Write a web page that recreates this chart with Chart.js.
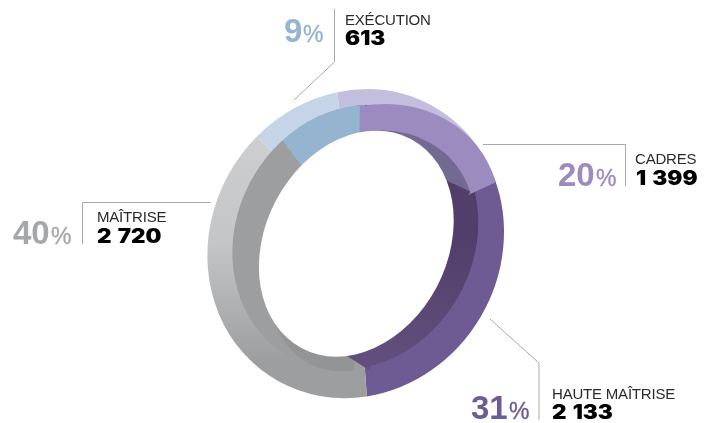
<!DOCTYPE html>
<html lang="fr"><head><meta charset="utf-8">
<style>
html,body{margin:0;padding:0;background:#fff}
#wrap{position:relative;width:712px;height:423px;overflow:hidden}
canvas{position:absolute;left:0;top:0}
.t{position:absolute;white-space:pre;line-height:1}
.lab{font-family:"Liberation Sans";font-size:15px;letter-spacing:-.2px;color:#2a2a2a}
.num{font-family:Inter;font-weight:900;font-size:19.5px;color:#000;transform:scaleX(1.15);transform-origin:0 50%;word-spacing:1.5px}
.pct{font-family:"Liberation Sans";font-weight:700;font-size:33px}
.sgn{font-family:"Liberation Sans";font-size:23px;-webkit-text-stroke:.35px currentColor}
</style></head><body>
<div id="wrap"><canvas id="c" width="712" height="423"></canvas></div>
<script src="https://cdn.jsdelivr.net/npm/chart.js@4/dist/chart.umd.min.js"></script>
<script>
const categories=["CADRES","HAUTE MAÎTRISE","MAÎTRISE","EXÉCUTION"];
const values=[1399,2133,2720,613];
const percents=[20,31,40,9];
const pctColors=["#9c8bbf","#6f5b93","#a6a7a9","#94b4d0"];
const labelPos=[[635,164],[552,399],[97,222],[345,25]];
const numPos=[[636,186],[552,420],[97,244],[345,46]];
const pctPos=[[558,186],[471,419],[13,244],[284,42]];
const leaders=[
 [[483,144.5],[625.5,144.5],[625.5,186]],
 [[490,319],[539,363],[539,420]],
 [[211,202.5],[82.5,202.5],[82.5,244]],
 [[294,100],[334.5,62],[334.5,9]]
];
const total=values.reduce((a,b)=>a+b,0);

const ctx0=document.getElementById('c').getContext('2d');
const gGrey=ctx0.createLinearGradient(0,0,0,423);
gGrey.addColorStop(0,'#d2d3d5');gGrey.addColorStop(.5,'#c4c5c7');gGrey.addColorStop(.88,'#9d9ea0');
const gDark=ctx0.createLinearGradient(0,210,0,423);
gDark.addColorStop(0,'#513e6a');gDark.addColorStop(1,'#63507e');
const T='rgba(0,0,0,0)';

// Layers of the ring, painted first to last. cx,cy: centre; sx,sy: half extents; k: tilt;
// tau,warp,peak: how the slices turn under the perspective of the 3D view (zoomed reference units).
const layers=[
 {colors:['#c4bede','#6f5b93',gGrey,'#c5d4e6'],cx:467,cy:491,sx:443.7,sy:463.5,k:33.6,tau:-12.5,warp:4,peak:75},
 {colors:[gDark,gDark,'#9d9ea0','#94b4d0'],cx:466,cy:472.5,sx:366.6,sy:397.5,k:42,tau:-11.5,warp:7.5,peak:50},
 {colors:[T,T,T,'#94b4d0'],cx:466,cy:472.5,sx:366.6,sy:397.5,k:42,tau:-2,warp:0,peak:0},
 {colors:['#9c8bbf',T,T,T],cx:475,cy:497,sx:422,sy:425,k:79,tau:-10,warp:0,peak:0},
 {colors:['#736a93',T,T,T],cx:475,cy:497,sx:342.5,sy:345,k:69.4,tau:-10,warp:0,peak:0},
 {colors:[T,T,'#939496',T],cx:497,cy:534,sx:283,sy:340,k:70,tau:-12,warp:0,peak:0},
 {colors:[T,'#614e7d',T,T],cx:305,cy:740,sx:238.5,sy:238.5,k:0,tau:-62.3,warp:0,peak:0},
 {colors:[T,'#513e6a',T,T],cx:560,cy:218,sx:276,sy:276,k:0,tau:41.6,warp:0,peak:0},
 {colors:['#ffffff'],single:true,cx:469,cy:491,sx:286,sy:339,k:60,tau:0,warp:0,peak:0}
];
const ox=200,oy=80,sc=1/3;
const rad=d=>d*Math.PI/180;

const ringPlugin={
 id:'ring',
 afterDatasetsUpdate(chart){
  chart.getSortedVisibleDatasetMetas().forEach(meta=>{
   const L=layers[meta.index];
   meta.data.forEach(el=>{
    const map=a=>{const th=a/Math.PI*180+90;return rad(th+L.tau+L.warp*Math.cos(rad(th-L.peak))-90);};
    const s=L.single?el.startAngle:map(el.startAngle),e=L.single?el.endAngle:map(el.endAngle);
    el.startAngle=s;el.endAngle=e;el.circumference=e-s;
    el.innerRadius=0;el.outerRadius=211;
   });
  });
 },
 beforeDatasetDraw(chart,args){
  const L=layers[args.index],c=chart.ctx,R=211,Cx=chart.width/2,Cy=chart.height/2;
  c.save();
  const Ux=L.k*sc,Uy=-L.sy*sc,Vx=L.sx*sc,Vy=0;
  c.transform(Vx/R,Vy/R,-Ux/R,-Uy/R,ox+L.cx*sc,oy+L.cy*sc);
  c.translate(-Cx,-Cy);
 },
 afterDatasetDraw(chart){chart.ctx.restore();},
 afterDraw(chart){
  const c=chart.ctx;c.save();c.strokeStyle='#a9a9a9';c.lineWidth=1;
  leaders.forEach(l=>{c.beginPath();l.forEach((p,i)=>i?c.lineTo(p[0],p[1]):c.moveTo(p[0],p[1]));c.stroke();});
  c.restore();
 }
};

new Chart(ctx0,{
 type:'doughnut',
 data:{labels:categories,datasets:layers.map((L,i)=>({
   data:L.single?[total]:values,backgroundColor:L.colors,borderWidth:0,clip:false,order:layers.length-i
 }))},
 options:{responsive:false,animation:false,cutout:0,events:[],layout:{padding:0},
  plugins:{legend:{display:false},tooltip:{enabled:false}}},
 plugins:[ringPlugin]
});

const wrap=document.getElementById('wrap');
function put(txt,cls,x,base,asc,size,color){
 const d=document.createElement('div');d.className='t '+cls;d.textContent=txt;
 d.style.left=x+'px';d.style.top=(base-asc*size)+'px';if(color)d.style.color=color;wrap.appendChild(d);return d;
}
const fmt=v=>String(v).replace(/\B(?=(\d{3})+$)/g,' ');
categories.forEach((n,i)=>{
 put(n,'lab',labelPos[i][0],labelPos[i][1],.8465,15);
 put(fmt(values[i]),'num',numPos[i][0],numPos[i][1],.8636,19.5);
 const p=put(String(percents[i]),'pct',pctPos[i][0],pctPos[i][1],.8465,33,pctColors[i]);
 put('%','sgn',pctPos[i][0]+p.offsetWidth+1,pctPos[i][1],.8465,23,pctColors[i]);
});
</script></body></html>
